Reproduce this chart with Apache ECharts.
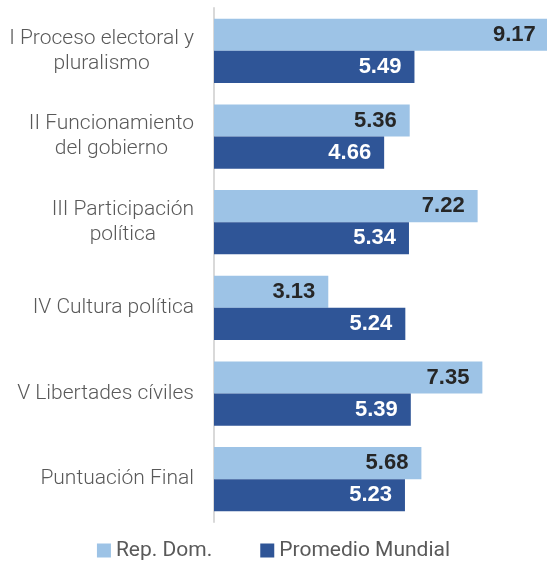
<!DOCTYPE html>
<html>
<head>
<meta charset="utf-8">
<script src="https://cdn.jsdelivr.net/npm/echarts@6/dist/echarts.min.js"></script>
<style>
  html, body { margin: 0; padding: 0; background: #fff; }
  #chart { width: 547px; height: 564px; }
</style>
</head>
<body>
<div id="chart"></div>
<script>
// categorias (de arriba hacia abajo)
var categorias = ['I Proceso electoral y\npluralismo', 'II Funcionamiento\ndel gobierno',
  'III Participación\npolítica', 'IV Cultura política', 'V Libertades cíviles', 'Puntuación Final'];
var repDom = [9.17, 5.36, 7.22, 3.13, 7.35, 5.68];
var promedioMundial = [5.49, 4.66, 5.34, 5.24, 5.39, 5.23];

var chart = echarts.init(document.getElementById('chart'));

var option = {
  animation: false,
  grid: { left: 214, right: 0, top: 8, bottom: 42 },
  legend: {
    bottom: 3,
    left: 'center',
    padding: 0,
    icon: 'rect',
    itemWidth: 14,
    itemHeight: 14,
    itemGap: 48,
    textStyle: { color: '#595959', fontSize: 21, fontFamily: 'Roboto' },
    data: ['Rep. Dom.', 'Promedio Mundial']
  },
  xAxis: {
    type: 'value',
    min: 0,
    max: 9.12,
    show: false
  },
  yAxis: {
    type: 'category',
    inverse: true,
    data: categorias,
    axisTick: { show: false },
    axisLine: { lineStyle: { color: '#d9d9d9', width: 2 } },
    axisLabel: {
      margin: 20,
      color: '#595959',
      fontSize: 21,
      fontWeight: 300,
      fontFamily: 'Roboto',
      lineHeight: 25,
      // lineas centradas dentro del bloque
      formatter: function (v) {
        return v.split('\n').map(function (l) { return '{c|' + l + '}'; }).join('\n');
      },
      rich: {
        c: { align: 'center', color: '#595959', fontSize: 21, fontWeight: 300, fontFamily: 'Roboto', lineHeight: 25 }
      }
    }
  },
  series: [{
    name: 'Rep. Dom.',
    type: 'bar',
    data: repDom,
    barGap: '0%',
    barCategoryGap: '25%',
    clip: false,
    itemStyle: { color: '#9dc3e6' },
    label: {
      show: true,
      position: 'insideRight',
      distance: 13,
      color: '#262626',
      fontSize: 22,
      fontWeight: 'bold',
      fontFamily: 'Liberation Sans',
      formatter: function (p) { return p.value.toFixed(2); }
    }
  }, {
    name: 'Promedio Mundial',
    type: 'bar',
    data: promedioMundial,
    itemStyle: { color: '#2f5597' },
    label: {
      show: true,
      position: 'insideRight',
      distance: 13,
      color: '#ffffff',
      fontSize: 22,
      fontWeight: 'bold',
      fontFamily: 'Liberation Sans',
      formatter: function (p) { return p.value.toFixed(2); }
    }
  }]
};

chart.setOption(option);
</script>
</body>
</html>
